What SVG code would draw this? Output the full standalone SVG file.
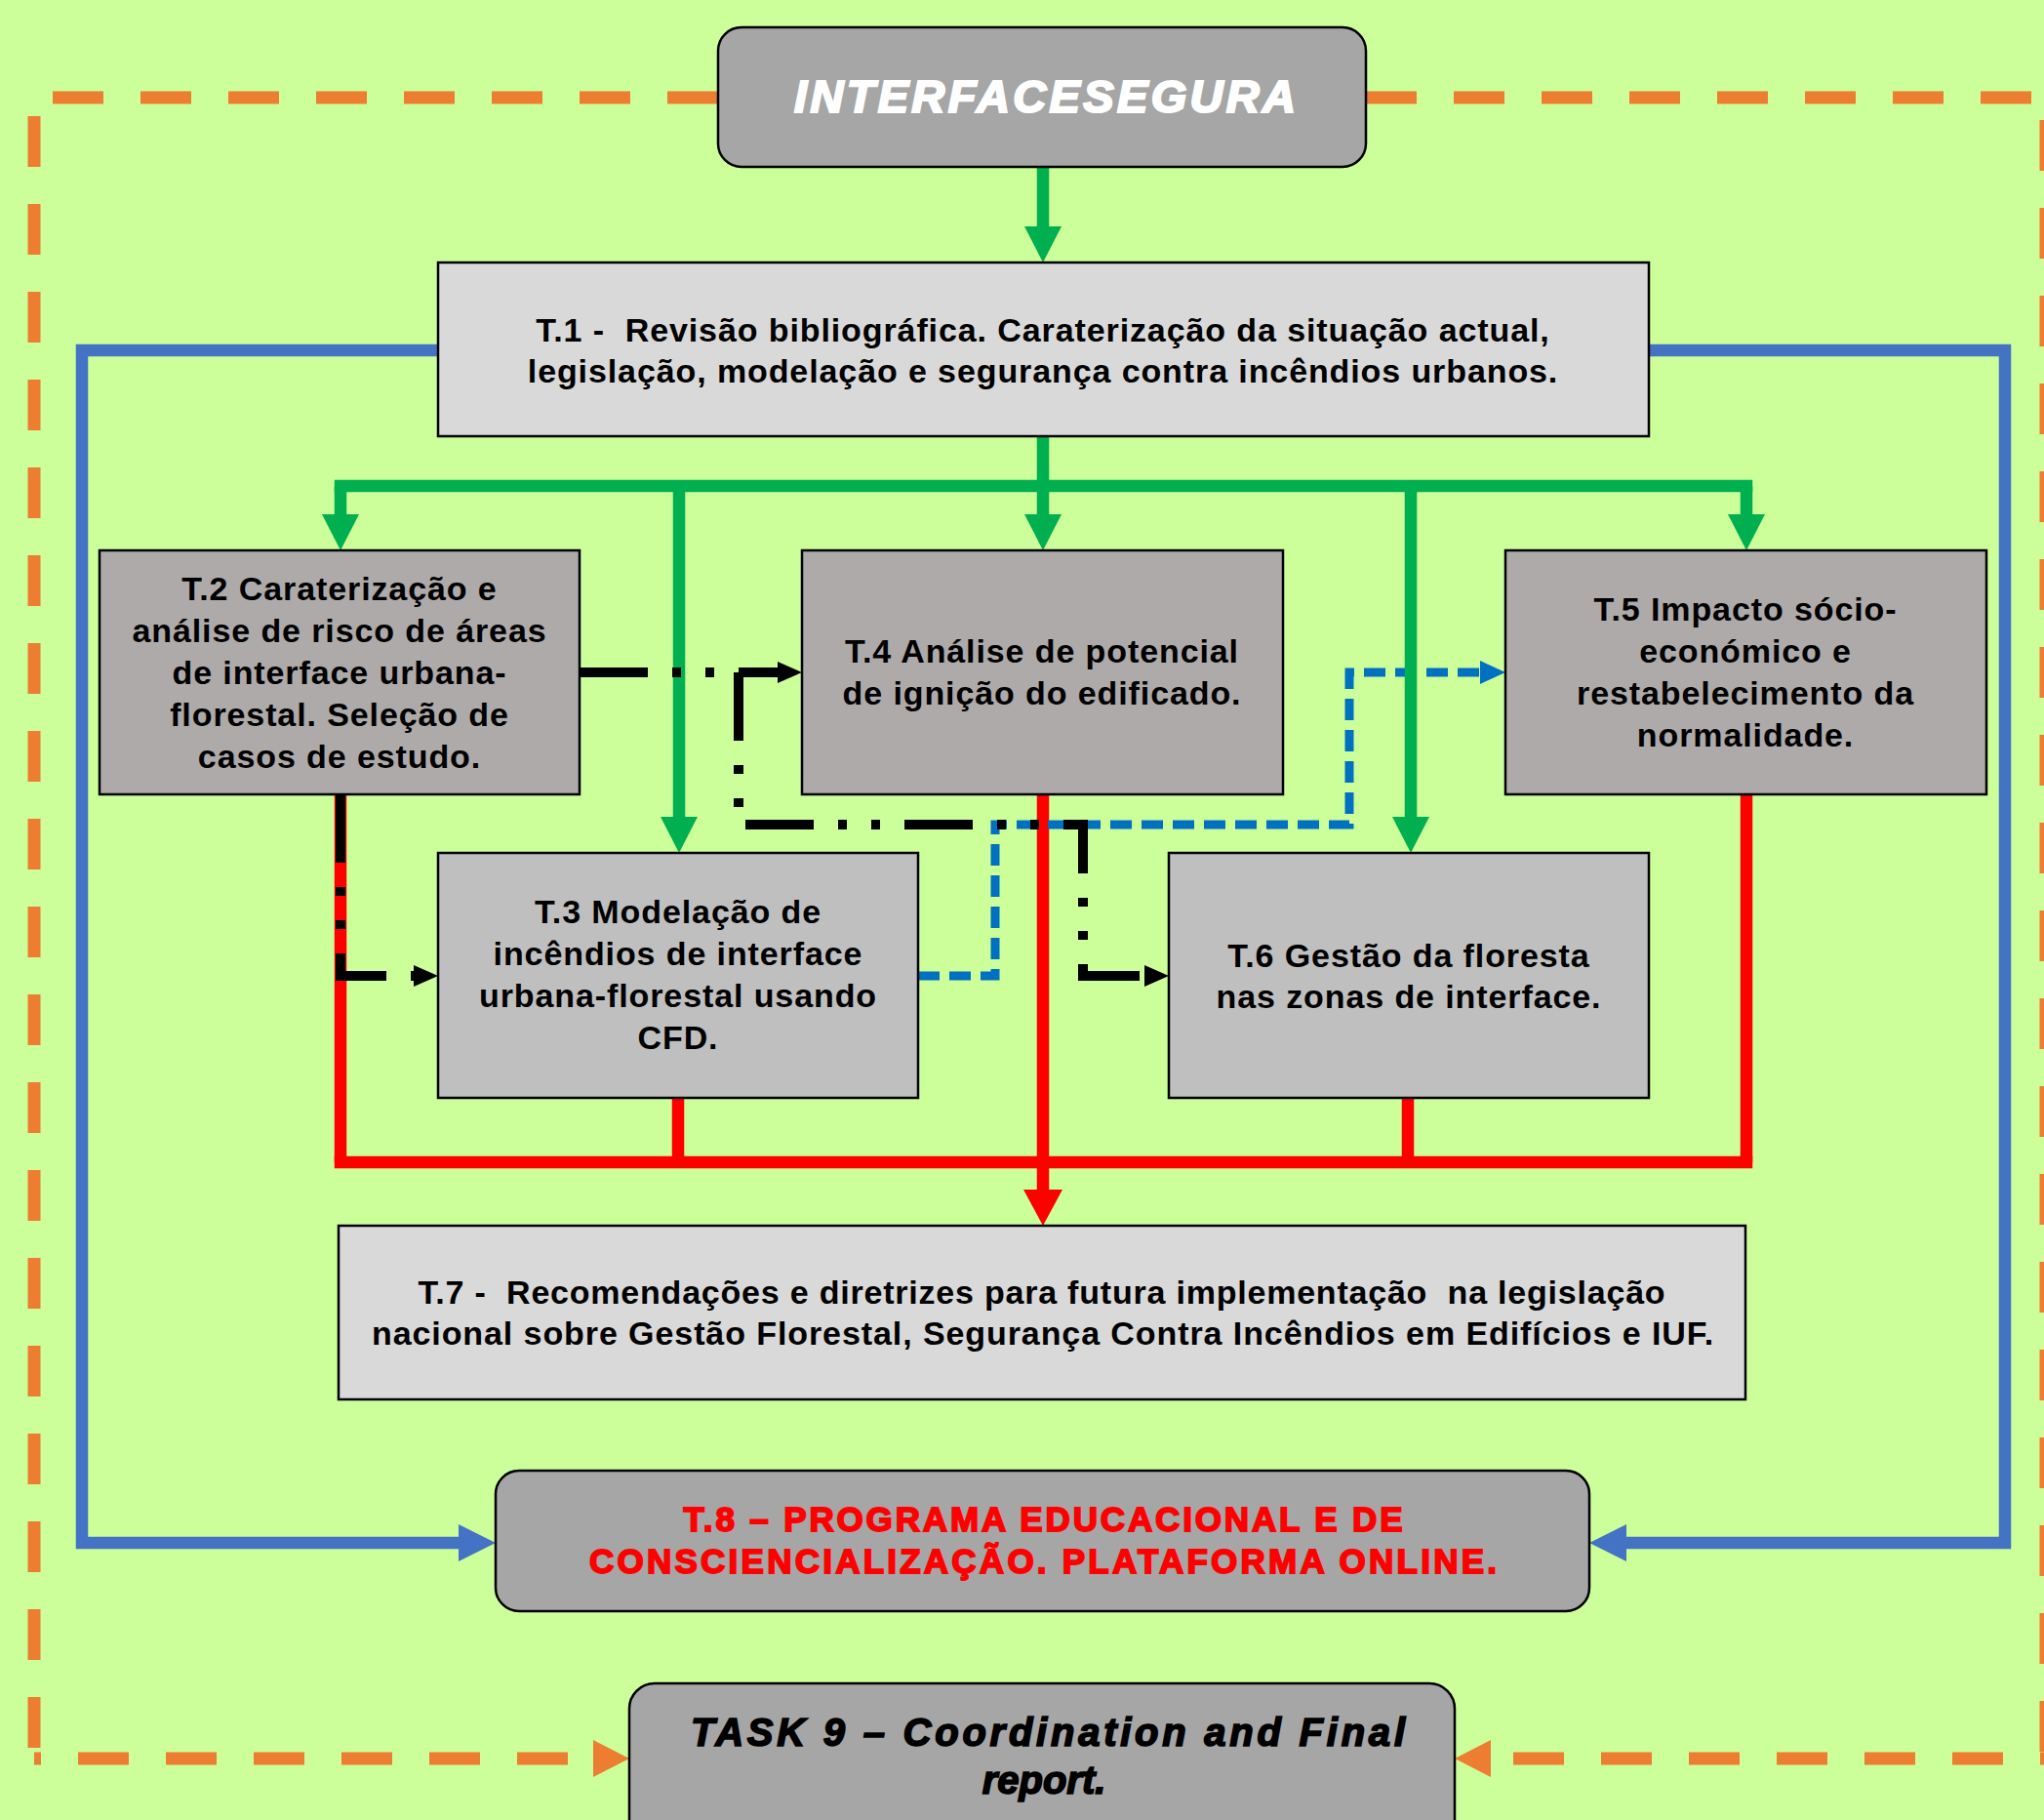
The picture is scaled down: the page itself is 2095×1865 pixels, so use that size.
<svg xmlns="http://www.w3.org/2000/svg" width="2095" height="1865" viewBox="0 0 2095 1865">
<style>
.bx{stroke:#000;stroke-width:2.5}
.t{font-family:"Liberation Sans",Arial,sans-serif;font-weight:bold;font-size:34px;letter-spacing:0.9px;fill:#000;text-anchor:middle}
.g{fill:none;stroke:#00B050;stroke-width:12.5}
.r{fill:none;stroke:#FF0000;stroke-width:12.5}
.b{fill:none;stroke:#4472C4;stroke-width:12.5;stroke-linejoin:miter}
.bd{fill:none;stroke:#0070C0;stroke-width:9;stroke-dasharray:22 10}
.k{fill:none;stroke:#000;stroke-width:10;stroke-dasharray:70 25 9 25 9 25}
.o{fill:none;stroke:#ED7D31;stroke-width:13;stroke-dasharray:52 38}
</style>
<defs>
<marker id="ag" viewBox="0 -19 37 38" refX="0" refY="0" markerWidth="37" markerHeight="38" markerUnits="userSpaceOnUse" orient="auto"><path d="M0,-19L37,0L0,19Z" fill="#00B050"/></marker>
<marker id="ar" viewBox="0 -20 37 40" refX="0" refY="0" markerWidth="37" markerHeight="40" markerUnits="userSpaceOnUse" orient="auto"><path d="M0,-20L37,0L0,20Z" fill="#FF0000"/></marker>
<marker id="ab" viewBox="0 -19 38 38" refX="0" refY="0" markerWidth="38" markerHeight="38" markerUnits="userSpaceOnUse" orient="auto"><path d="M0,-19L38,0L0,19Z" fill="#4472C4"/></marker>
<marker id="abd" viewBox="0 -12 26 24" refX="0" refY="0" markerWidth="26" markerHeight="24" markerUnits="userSpaceOnUse" orient="auto"><path d="M0,-12L26,0L0,12Z" fill="#0070C0"/></marker>
<marker id="ak" viewBox="0 -11 25 22" refX="0" refY="0" markerWidth="25" markerHeight="22" markerUnits="userSpaceOnUse" orient="auto"><path d="M0,-11L25,0L0,11Z" fill="#000"/></marker>
<marker id="ao" viewBox="0 -19 37 38" refX="0" refY="0" markerWidth="37" markerHeight="38" markerUnits="userSpaceOnUse" orient="auto"><path d="M0,-19L37,0L0,19Z" fill="#ED7D31"/></marker>
</defs>
<rect x="0" y="0" width="2095" height="1865" fill="#CCFF99"/>

<g id="connectors">
  <path class="o" d="M736,100H35V1802"/>
  <path class="o" d="M35,1802H608" stroke-dashoffset="45" marker-end="url(#ao)"/>
  <path class="o" d="M1400,100H2097V1802"/>
  <path class="o" d="M2097,1802H1528" stroke-dashoffset="46" marker-end="url(#ao)"/>
  <path class="b" d="M449,359H84V1581H470" marker-end="url(#ab)"/>
  <path class="b" d="M1690,359H2055V1581H1667" marker-end="url(#ab)"/>
  <path class="r" d="M349,814V1191"/>
  <path class="r" d="M695,1125V1191"/>
  <path class="r" d="M1443,1125V1191"/>
  <path class="r" d="M1790,814V1191"/>
  <path class="r" d="M349,1191H1790" stroke-linecap="square"/>
  <path class="r" d="M1069,814V1219" marker-end="url(#ar)"/>
  <path class="bd" d="M941,1000H1020V845H1383V689H1517" marker-end="url(#abd)"/>
  <path class="g" d="M1069,171V232" marker-end="url(#ag)"/>
  <path class="g" d="M1069,447V527" marker-end="url(#ag)"/>
  <path class="g" d="M349,498H1790" stroke-linecap="square"/>
  <path class="g" d="M349,498V527" marker-end="url(#ag)"/>
  <path class="g" d="M696,498V837" marker-end="url(#ag)"/>
  <path class="g" d="M1446,498V837" marker-end="url(#ag)"/>
  <path class="g" d="M1790,498V527" marker-end="url(#ag)"/>
  <path class="k" d="M594,689H797" marker-end="url(#ak)"/>
  <path class="k" d="M757,689V845H1110V1000H1173" marker-end="url(#ak)"/>
  <path class="k" d="M349,814V1000H424" marker-end="url(#ak)"/>
</g>

<g id="interfacesegura">
  <rect class="bx" x="736" y="28" width="664" height="143" rx="24" fill="#A6A6A6"/>
  <text x="1071" y="115" font-family="Liberation Sans,Arial,sans-serif" font-weight="bold" font-style="italic" font-size="47" fill="#FFFFFF" stroke="#FFFFFF" stroke-width="2.2" text-anchor="middle" textLength="514" lengthAdjust="spacing">INTERFACESEGURA</text>
</g>

<g id="t1">
  <rect class="bx" x="449" y="269" width="1241" height="178" fill="#D9D9D9"/>
  <text class="t" x="1069" y="350" xml:space="preserve">T.1 -  Revisão bibliográfica. Caraterização da situação actual,</text>
  <text class="t" x="1069" y="392">legislação, modelação e segurança contra incêndios urbanos.</text>
</g>

<g id="t2">
  <rect class="bx" x="102" y="564" width="492" height="250" fill="#AEAAAA"/>
  <text class="t" x="348" y="615">T.2 Caraterização e</text>
  <text class="t" x="348" y="658">análise de risco de áreas</text>
  <text class="t" x="348" y="701">de interface urbana-</text>
  <text class="t" x="348" y="744">florestal. Seleção de</text>
  <text class="t" x="348" y="787">casos de estudo.</text>
</g>

<g id="t3">
  <rect class="bx" x="449" y="874" width="492" height="251" fill="#BFBFBF"/>
  <text class="t" x="695" y="946">T.3 Modelação de</text>
  <text class="t" x="695" y="989">incêndios de interface</text>
  <text class="t" x="695" y="1032">urbana-florestal usando</text>
  <text class="t" x="695" y="1075">CFD.</text>
</g>

<g id="t4">
  <rect class="bx" x="822" y="564" width="493" height="250" fill="#AEAAAA"/>
  <text class="t" x="1068" y="679">T.4 Análise de potencial</text>
  <text class="t" x="1068" y="722">de ignição do edificado.</text>
</g>

<g id="t5">
  <rect class="bx" x="1543" y="564" width="493" height="250" fill="#AEAAAA"/>
  <text class="t" x="1789" y="636">T.5 Impacto sócio-</text>
  <text class="t" x="1789" y="679">económico e</text>
  <text class="t" x="1789" y="722">restabelecimento da</text>
  <text class="t" x="1789" y="765">normalidade.</text>
</g>

<g id="t6">
  <rect class="bx" x="1198" y="874" width="492" height="251" fill="#BFBFBF"/>
  <text class="t" x="1444" y="991">T.6 Gestão da floresta</text>
  <text class="t" x="1444" y="1033">nas zonas de interface.</text>
</g>

<g id="t7">
  <rect class="bx" x="347" y="1256" width="1442" height="178" fill="#D9D9D9"/>
  <text class="t" x="1068" y="1336" xml:space="preserve" textLength="1279" lengthAdjust="spacing">T.7 -  Recomendações e diretrizes para futura implementação  na legislação</text>
  <text class="t" x="1069" y="1378" textLength="1376" lengthAdjust="spacing">nacional sobre Gestão Florestal, Segurança Contra Incêndios em Edifícios e IUF.</text>
</g>

<g id="t8">
  <rect class="bx" x="508" y="1507" width="1121" height="144" rx="24" fill="#A6A6A6"/>
  <text x="1069" y="1569" font-family="Liberation Sans,Arial,sans-serif" font-weight="bold" font-size="35" fill="#FF0000" stroke="#FF0000" stroke-width="1.8" text-anchor="middle" textLength="737" lengthAdjust="spacing">T.8 – PROGRAMA EDUCACIONAL E DE</text>
  <text x="1069" y="1612" font-family="Liberation Sans,Arial,sans-serif" font-weight="bold" font-size="35" fill="#FF0000" stroke="#FF0000" stroke-width="1.8" text-anchor="middle" textLength="930" lengthAdjust="spacing">CONSCIENCIALIZAÇÃO. PLATAFORMA ONLINE.</text>
</g>

<g id="t9">
  <rect class="bx" x="645" y="1725" width="846" height="180" rx="26" fill="#A6A6A6"/>
  <text x="1074" y="1789" font-family="Liberation Sans,Arial,sans-serif" font-weight="bold" font-style="italic" font-size="40" fill="#000" stroke="#000" stroke-width="1.6" text-anchor="middle" textLength="732" lengthAdjust="spacing">TASK 9 – Coordination and Final</text>
  <text x="1070" y="1838" font-family="Liberation Sans,Arial,sans-serif" font-weight="bold" font-style="italic" font-size="40" fill="#000" stroke="#000" stroke-width="1.6" text-anchor="middle">report.</text>
</g>
</svg>
